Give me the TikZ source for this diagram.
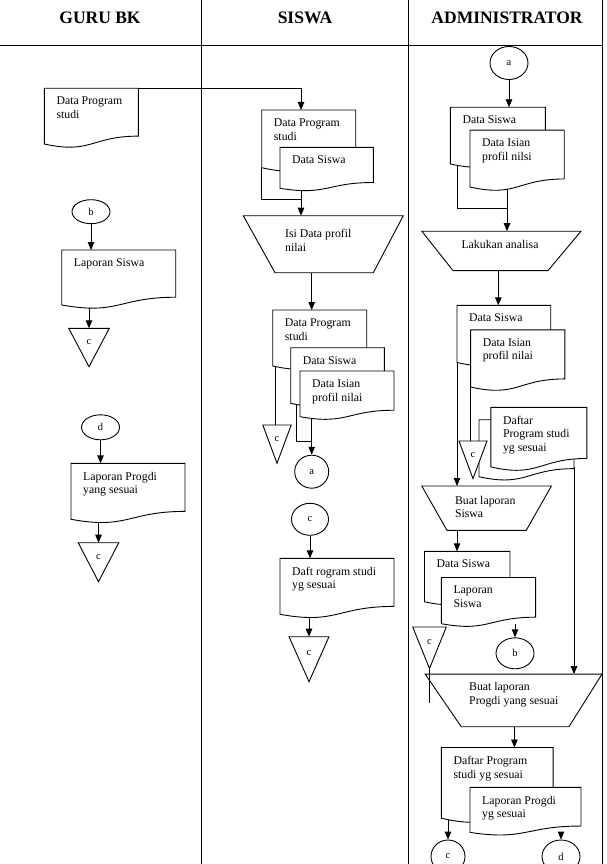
\documentclass[tikz,border=0pt]{standalone}
\usepackage{fontspec}
\setmainfont{Liberation Serif}
\usetikzlibrary{arrows.meta,calc,shapes.geometric}
\pgfdeclarelayer{lines}
\pgfdeclarelayer{docs}
\pgfsetlayers{lines,docs,main}
\tikzset{
  ln/.style={line width=0.9pt, draw=black},
  arr/.style={ln, -{Triangle[length=8pt,width=6.5pt]}},
  docbox/.style={rectangle, draw=none, inner sep=0pt, outer sep=0pt, anchor=north west},
  doctext/.style={anchor=north west, inner sep=0pt, align=left, font=\fontsize{11.8}{13.6}\selectfont},
  conn/.style={ellipse, draw, line width=0.9pt, inner sep=0pt, fill=white, font=\fontsize{10.5}{12}\selectfont},
  hdr/.style={font=\fontsize{17.5}{20}\selectfont\bfseries},
  shapeline/.style={line width=0.9pt, draw=black, line join=miter},
  tritext/.style={inner sep=0pt, font=\fontsize{10.5}{12}\selectfont},
}
\newcommand{\docu}[6]{%
  \node[docbox, minimum width=#4pt, minimum height=#5pt] (#1) at (#2,#3) {};
  \begin{pgfonlayer}{docs}
  \draw[shapeline, fill=white] (#1.north west) -- (#1.north east) -- ($(#1.south east)!0.1413!(#1.north east)$) .. controls ($(#1.south)!0.1413!(#1.north)$) and ($(#1.south)!-0.1863!(#1.north)$) .. (#1.south west) -- cycle;
  \end{pgfonlayer}
  \node[doctext] (#1-t) at ([shift={(12,8.5)}]#1.north west) {#6};
}
\newcommand{\tri}[5]{%
  \coordinate (#1-top) at (#2,#3);
  \coordinate (#1-v) at (#2,#3+#5);
  \begin{pgfonlayer}{docs}
  \draw[shapeline, fill=white] ($(#1-top)+(-#4,0)$) -- ($(#1-top)+(#4,0)$) -- (#1-v) -- cycle;
  \end{pgfonlayer}
  \node[tritext] (#1) at ($(#1-top)+(0,0.37*#5)$) {c};
}
\newcommand{\trap}[7]{%
  \node[docbox, minimum width=#4pt, minimum height=#5pt] (#1) at (#2,#3) {};
  \draw[shapeline] (#1.north west) -- (#1.north east) -- ([xshift=-#7pt]#1.south east) -- ([xshift=#6pt]#1.south west) -- cycle;
}
\begin{document}
\begin{tikzpicture}[x=1pt,y=-1pt]
\useasboundingbox (0,0) rectangle (606,864);
\clip (0,0) rectangle (606,864);
% table
\draw[ln] (0,45) -- (602,45);
\draw[ln] (201,0) -- (201,864);
\draw[ln] (408,0) -- (408,864);
\draw[ln] (602,0) -- (602,864);
\node[hdr] (h1) at (100,18) {GURU BK};
\node[hdr] (h2) at (305,18) {SISWA};
\node[hdr] (h3) at (507,18) {ADMINISTRATOR};

% GURU BK
\docu{gdp}{44.3}{88.3}{94}{55.7}{Data Program\\studi}
\node[conn, minimum width=38pt, minimum height=24pt] (gb) at (91,211.7) {b};
\docu{gls}{61.7}{250}{114}{55}{Laporan Siswa}
\tri{gt1}{89}{328.3}{20.3}{38.4}
\node[conn, minimum width=38pt, minimum height=25pt] (gd) at (100.5,427.3) {d};
\docu{glp}{71}{463.3}{114}{56}{Laporan Progdi\\yang sesuai}
\tri{gt2}{98.5}{542.7}{20.3}{39}

% SISWA
\docu{sdp1}{261.7}{110}{94}{57.7}{Data Program\\studi}
\docu{sds1}{280}{147.3}{93.3}{41}{Data Siswa}
\trap{isi}{243.3}{215.7}{160}{57}{31.7}{30}
\node[doctext] (isi-t) at (285,229) {Isi Data profil\\nilai};
\docu{sdp2}{272.7}{310}{94}{56}{Data Program\\studi}
\docu{sds2}{290.7}{347.7}{93.6}{55.6}{Data Siswa}
\docu{sdi2}{300}{371}{94}{45.7}{Data Isian\\profil nilai}
\tri{st1}{277}{425}{14.2}{38.3}
\node[conn, minimum width=34pt, minimum height=33pt] (sa) at (311.7,471.7) {a};
\node[conn, minimum width=37pt, minimum height=32pt] (sc) at (310,519.3) {c};
\docu{sdf}{280}{558.3}{114}{56}{Daft rogram studi\\yg sesuai}
\tri{st2}{309}{636.7}{20}{45}

% ADMINISTRATOR
\node[conn, minimum width=38pt, minimum height=33pt] (aa) at (509,63) {a};
\docu{ads1}{450.4}{107.3}{95}{56.7}{Data Siswa}
\docu{adi1}{470}{130.2}{94.2}{56.8}{Data Isian\\profil nilsi}
\trap{lak}{421.8}{231.2}{159.2}{39.4}{31.2}{33}
\node[doctext, anchor=base] (lak-t) at (500,248.8) {Lakukan analisa};
\docu{ads2}{457}{305.3}{93.7}{57.2}{Data Siswa}
\docu{adi2}{470.6}{329.8}{94.3}{57.2}{Data Isian\\profil nilai}
\docu{adb}{479}{419.7}{95}{57}{}
\docu{adf}{490.8}{407.3}{96}{59.6}{Daftar\\Program studi\\yg sesuai}
\tri{at1}{473}{441}{14}{37.6}
\trap{bls}{421.8}{486}{129.6}{44.4}{25.2}{25.2}
\node[doctext] (bls-t) at (454.8,495.7) {Buat laporan\\Siswa};
\docu{ads3}{424.5}{551.3}{85.5}{50.5}{Data Siswa}
\docu{als3}{441.3}{577.5}{94.3}{46.2}{Laporan\\Siswa}
\tri{at2}{429.5}{627}{16.8}{41.5}
\node[conn, minimum width=38pt, minimum height=31pt] (ab) at (515,653.3) {b};
\trap{bpr}{425.2}{674.1}{176.8}{52.6}{36}{33}
\node[doctext] (bpr-t) at (469,682.5) {Buat laporan\\Progdi yang sesuai};
\docu{adp4}{441.3}{747.5}{111.8}{70.7}{Daftar Program\\studi yg sesuai}
\docu{alp4}{470}{787.3}{111}{45.1}{Laporan Progdi\\yg sesuai}
\node[conn, minimum width=34pt, minimum height=33pt] (ac) at (448,856.5) {c};
\node[conn, minimum width=38pt, minimum height=33pt] (ad) at (561,856.5) {d};

% connectors
\coordinate (s6) at ([xshift=21pt]sds1.south west);
\coordinate (j1) at (301,199.3);
\coordinate (s8) at ([xshift=39pt]sdp2.north west);
\coordinate (s9) at ([xshift=2.3pt]sdp2.south west);
\coordinate (s10) at ([xshift=5.3pt]sds2.south west);
\coordinate (j2) at (311.7,441.7);
\coordinate (s15) at ([xshift=37pt]adi1.south west);
\coordinate (s16) at ([xshift=6.6pt]ads1.south west);
\coordinate (j3) at (507,208.3);
\coordinate (s17) at ([xshift=41.3pt]ads2.north west);
\coordinate (s20) at ([xshift=83.2pt]adf.south west);
\coordinate (s21) at ([xshift=32.5pt]ads3.north west);
\coordinate (j4) at (429.5,703);
\coordinate (s25) at ([xshift=73.1pt]adp4.north west);
\coordinate (s1) at ([xshift=39.3pt]sdp1.north west);
\begin{pgfonlayer}{lines}
\draw[arr] (gdp.north east) -| (s1);
\draw[arr] (gb.south) -- (gb.south |- gls.north);
\draw[arr] (gt1-top |- gls.south) -- (gt1-top);
\draw[arr] (gd.south) -- (gd.south |- glp.north);
\draw[arr] (gt2-top |- glp.south) -- (gt2-top);
\draw[arr] (s6) -- (s6 |- isi.north);
\draw[ln] (sdp1.south west) |- (j1);
\draw[arr] (s8 |- isi.south) -- (s8);
\draw[ln] (s9) -- (s9 |- st1-top);
\draw[ln] (s10) |- (j2);
\draw[arr] (sa.north |- sdi2.south) -- (sa.north);
\draw[arr] (sc.south) -- (sc.south |- sdf.north);
\draw[arr] (st2-top |- sdf.south) -- (st2-top);
\draw[arr] (aa.south) -- (aa.south |- ads1.north);
\draw[arr] (s15) -- (s15 |- lak.north);
\draw[ln] (s16) |- (j3);
\draw[arr] (s17 |- lak.south) -- (s17);
\draw[arr] (ads2.south west) -- (ads2.south west |- bls.north);
\draw[ln] (adi2.south west) -- (adi2.south west |- at1-top);
\draw[arr] (s20) -- (s20 |- bpr.north);
\draw[arr] (s21 |- bls.south) -- (s21);
\draw[arr] (ab.north |- als3.south) -- (ab.north);
\draw[ln] (at2-v) -- (j4);
\draw[arr] (s25 |- bpr.south) -- (s25);
\draw[arr] (ac.north |- adp4.south) -- (ac.north);
\draw[arr] (ad.north |- alp4.south) -- (ad.north);
\end{pgfonlayer}
\end{tikzpicture}
\end{document}
